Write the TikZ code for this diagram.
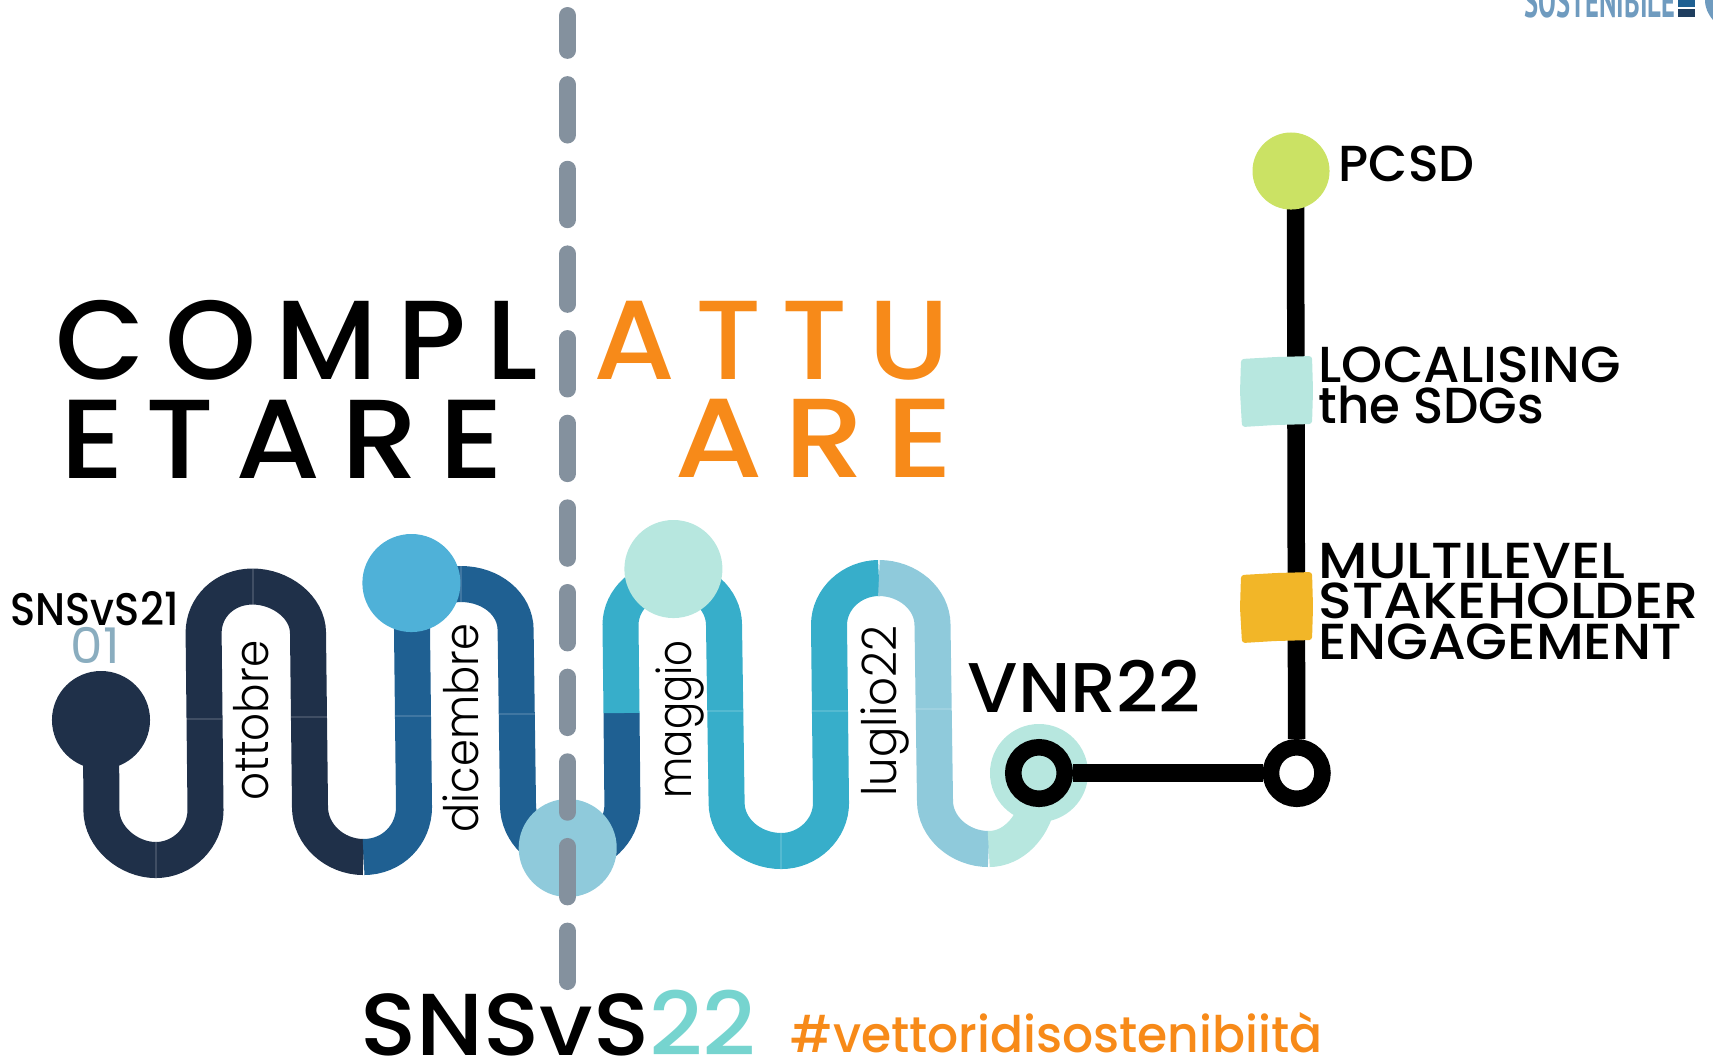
\documentclass[tikz,border=0pt]{standalone}
\usepackage{fontspec}
\setmainfont{Poppins}
\newfontfamily\lightfont{Poppins Light}
\newfontfamily\medfont{Poppins Medium}
\newfontfamily\spacedfont[LetterSpace=17]{Poppins Medium}
\newfontfamily\narrowfont{PT Sans Bold}
\definecolor{navy}{HTML}{1F3049}
\definecolor{blu}{HTML}{1F6092}
\definecolor{ciano}{HTML}{37AECA}
\definecolor{pallido}{HTML}{8FCADB}
\definecolor{menta}{HTML}{B7E7DF}
\definecolor{celeste}{HTML}{4FB1D8}
\definecolor{grigio}{HTML}{84919E}
\definecolor{arancio}{HTML}{F78A19}
\definecolor{giallo}{HTML}{F2B628}
\definecolor{lime}{HTML}{CBE264}
\definecolor{acqua}{HTML}{76D4CF}
\definecolor{polvere}{HTML}{8AADBF}
\definecolor{acciaio}{HTML}{6F9BBF}
\tikzset{
  road/.style={draw=#1,line width=0.36cm},
  seam/.style={draw=white,opacity=0.15,line width=0.02cm},
  tappa/.style={circle,fill=#1,minimum size=0.98cm,inner sep=0pt},
  ring/.style={circle,draw=black,line width=0.165cm,minimum size=0.515cm,inner sep=0pt},
  metro/.style={draw=black,line width=0.175cm},
  testo/.style={inner sep=0pt,anchor=base west},
  mese/.style={testo,rotate=90,font=\lightfont\fontsize{13.5}{16}\selectfont},
  voce/.style={testo,font=\medfont\fontsize{14.4}{16}\selectfont},
  titolo/.style={testo,font=\spacedfont\fontsize{32}{36}\selectfont}
}
\newcommand{\patch}[3]{\fill[#1,rounded corners=0.03cm,shift={(#2,#3)}] (1,3) -- (36,1) -- (72,0) -- (73,35) -- (72,68) -- (35,69) -- (2,71) -- (0,36) -- cycle;}
\newcommand{\largo}[2]{\scalebox{#1}[1]{#2}}
\begin{document}
\begin{tikzpicture}[x=0.01cm,y=-0.01cm]
  \useasboundingbox (0,0) rectangle (1713,1059);
  % il percorso
  \coordinate (inizio) at (101,720);
  \draw[road=navy] (inizio) -- (101.4,810) .. controls +(0,27.5) and +(-27,0) .. (155.8,860) .. controls +(27,0) and +(0,27.5) .. (205.5,810) -- (203.6,633) .. controls +(0,-26) and +(-28,0) .. (252.6,586.5) .. controls +(28,0) and +(0,-26) .. (308,633) -- (310,807) .. controls +(0,27.5) and +(-29,0) .. (363.6,857);
  \draw[road=blu] (363.6,857) .. controls +(29,0) and +(0,27.5) .. (414,807) -- (412,630) .. controls +(0,-26) and +(-27,0) .. (461,584) .. controls +(30,0) and +(0,-26) .. (515.6,630) -- (518,805) .. controls +(0,27.5) and +(-28,0) .. (570,855) .. controls +(28,0) and +(0,27.5) .. (622.4,805) -- (621.5,713);
  \draw[road=ciano] (621.5,713) -- (620.5,625) .. controls +(0,-26) and +(-28,0) .. (672,578) .. controls +(28,0) and +(0,-26) .. (724,625) -- (726.6,803) .. controls +(0,26) and +(-30,0) .. (781.3,851) .. controls +(27,0) and +(0,26) .. (831,803) -- (829,625) .. controls +(0,-26) and +(-27,0) .. (878.9,578);
  \draw[road=pallido] (878.9,578) .. controls +(29,0) and +(0,-26) .. (932.5,625) -- (935,801) .. controls +(0,26) and +(-29,0) .. (988.7,849);
  \draw[road=menta] (988.7,849) .. controls +(25,0) and +(-5,22) .. (1037,805);
  % le giunture
  \foreach \x/\y in {204/719,309/717,413/716,517/714,725/711,830/711,934/709}
    \draw[seam] (\x-18,\y) -- (\x+18,\y);
  \foreach \x/\y in {155.8/860,252.6/586.5,461/584,781.3/851}
    \draw[seam] (\x,\y-18) -- (\x,\y+18);
  % le tappe
  \node[tappa=navy] (ott) at (101,720) {};
  \node[tappa=celeste] (dic) at (411.4,583) {};
  \node[tappa=pallido] (gen) at (567.7,848) {};
  \node[tappa=menta] (mag) at (673.4,569) {};
  \node[tappa=menta] (lug) at (1039,773) {};
  % la linea tratteggiata
  \coordinate (fine) at (567.5,981.5);
  \coordinate (cima) at (567.5,15.5);
  \draw[grigio,line width=0.17cm,line cap=round,dash pattern=on 0.504cm off 0.342cm] (fine) -- (cima);
  % la linea nera
  \node[ring,fill=menta] (vnr) at (lug) {};
  \node[ring,fill=white] (hub) at (1296.7,773) {};
  \coordinate (alto) at (1295.5,200);
  \draw[metro] (vnr) -- (hub);
  \draw[metro] (hub) -- (alto);
  \node[tappa=lime,minimum size=0.77cm] (pcsd) at (1291,171) {};
  \patch{menta}{1240}{356}
  \patch{giallo}{1240}{572}
  % i testi
  \node[titolo] (compl) at (55,379) {\largo{1.03}{COMPL}};
  \node[titolo] (etare) at (60,478) {\largo{1.087}{ETARE}};
  \node[titolo,text=arancio] (attu) at (593,379) {\largo{1.045}{ATTU}};
  \node[titolo,text=arancio] (are) at (674,477) {\largo{1.13}{ARE}};
  \node[mese] (lottobre) at (268,801) {\largo{0.92}{ottobre}};
  \node[mese] (ldicembre) at (478,833) {\largo{0.91}{dicembre}};
  \node[mese] (lmaggio) at (691,799) {\largo{0.85}{maggio}};
  \node[mese] (lluglio) at (896,797) {\largo{0.95}{luglio22}};
  \node[testo,font=\medfont\fontsize{13}{15}\selectfont] (sns21) at (10,625) {\largo{0.91}{SNSvS21}};
  \node[testo,text=polvere,font=\fontsize{14}{17}\selectfont] (zero) at (70,663) {\largo{1.05}{01}};
  \node[testo,font=\medfont\fontsize{20}{24}\selectfont] (lvnr) at (967,712) {\largo{1.035}{VNR22}};
  \node[voce] (lpcsd) at (1338,181) {PCSD};
  \node[voce] (loc) at (1318,382.5) {\largo{1.034}{LOCALISING}};
  \node[voce] (sdg) at (1318,423) {\largo{0.985}{the SDGs}};
  \node[voce] (multi) at (1318,578) {\largo{1.107}{MULTILEVEL}};
  \node[voce] (stake) at (1318,618) {\largo{1.10}{STAKEHOLDER}};
  \node[voce] (enga) at (1318,659) {\largo{1.07}{ENGAGEMENT}};
  \node[testo,font=\medfont\fontsize{25}{30}\selectfont] (sns22) at (360,1055) {\largo{1.056}{SNSvS\textcolor{acqua}{22}}};
  \node[testo,text=arancio,font=\medfont\fontsize{14.3}{17}\selectfont] (hash) at (790,1052) {\largo{0.97}{\#vettoridisostenibiità}};
  % in alto a destra
  \node[testo,text=acciaio,font=\narrowfont\fontsize{13}{15}\selectfont] (sost) at (1524,17) {\largo{0.58}{SOSTENIBILE}};
  \fill[blu] (1678,0) rectangle (1695,7);
  \fill[navy!70!blu] (1678,9) rectangle (1695,17);
  \fill[acciaio] (1713,0) -- (1705,0) .. controls (1705,8) and (1708,14) .. (1713,20) -- cycle;
\end{tikzpicture}
\end{document}
